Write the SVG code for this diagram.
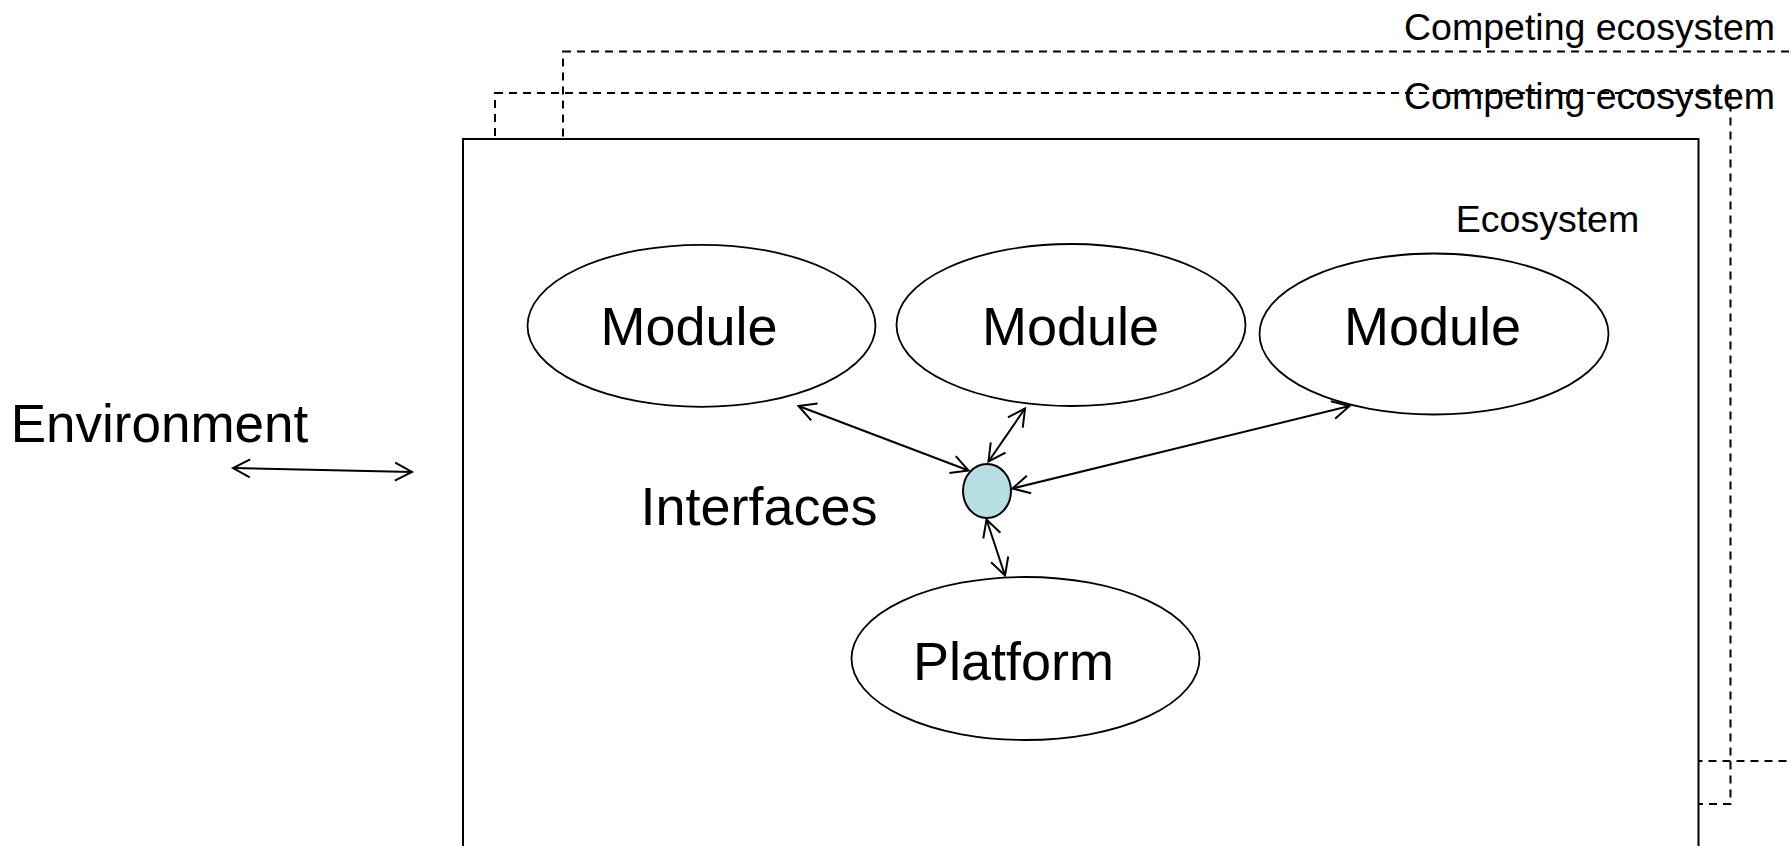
<svg xmlns="http://www.w3.org/2000/svg" width="1791" height="846" viewBox="0 0 1791 846">
  <style>
    .label { font-family: "Liberation Sans", Arial, sans-serif; fill: #000; }
    .big { font-size: 54px; }
    .small { font-size: 37.5px; }
    .frame { fill: none; stroke: #000; stroke-width: 2; stroke-dasharray: 8 6; }
    .main { fill: #fff; stroke: #000; stroke-width: 2; }
    .node { fill: #fff; stroke: #000; stroke-width: 1.8; }
    .iface { fill: #b7dee2; stroke: #000; stroke-width: 2; }
    .link { fill: none; stroke: #000; stroke-width: 2; marker-start: url(#tip); marker-end: url(#tip); }
  </style>
  <defs>
    <marker id="tip" markerUnits="userSpaceOnUse" viewBox="-20 -12 24 24" markerWidth="24" markerHeight="24" refX="0" refY="0" orient="auto-start-reverse" overflow="visible">
      <path d="M -17 -9 L 0 0 L -17 9" fill="none" stroke="#000" stroke-width="2"/>
    </marker>
  </defs>
  <rect width="1791" height="846" fill="#fff"/>

  <!-- competing ecosystems behind the main one -->
  <g id="competing-outer">
    <rect class="frame" x="563" y="51.5" width="1300" height="709.5"/>
    <text class="label small" x="1589.5" y="39.5" text-anchor="middle">Competing ecosystem</text>
  </g>
  <g id="competing-inner">
    <rect class="frame" x="495" y="93" width="1235.5" height="711"/>
    <text class="label small" x="1589.5" y="108.5" text-anchor="middle">Competing ecosystem</text>
  </g>

  <!-- main ecosystem frame -->
  <g id="ecosystem">
    <rect class="main" x="463" y="139" width="1235.5" height="760"/>
    <text class="label small" x="1547.5" y="232" text-anchor="middle">Ecosystem</text>
  </g>

  <g id="environment">
    <text class="label big" x="159.5" y="442" text-anchor="middle" style="font-size:53px">Environment</text>
  </g>

  <g id="module-1">
    <ellipse class="node" cx="701.5" cy="325.8" rx="174" ry="81"/>
    <text class="label big" x="689" y="345" text-anchor="middle">Module</text>
  </g>
  <g id="module-2">
    <ellipse class="node" cx="1071" cy="325" rx="174.5" ry="81"/>
    <text class="label big" x="1070.5" y="345" text-anchor="middle">Module</text>
  </g>
  <g id="module-3">
    <ellipse class="node" cx="1434" cy="334" rx="174.5" ry="80.5"/>
    <text class="label big" x="1432.5" y="345" text-anchor="middle">Module</text>
  </g>
  <g id="platform">
    <ellipse class="node" cx="1025.5" cy="658.5" rx="174" ry="81.5"/>
    <text class="label big" x="1013.5" y="680" text-anchor="middle">Platform</text>
  </g>
  <g id="interfaces">
    <ellipse class="iface" cx="987" cy="491" rx="24" ry="27"/>
    <text class="label big" x="759" y="525" text-anchor="middle">Interfaces</text>
  </g>

  <!-- two-way links -->
  <g id="connectors">
    <line class="link" x1="233" y1="468" x2="412" y2="472"/>
    <line class="link" x1="798.5" y1="406" x2="968.5" y2="470.5"/>
    <line class="link" x1="1025" y1="408.5" x2="988.5" y2="461.5"/>
    <line class="link" x1="1349.5" y1="406" x2="1012.5" y2="488.5"/>
    <line class="link" x1="986.5" y1="519.5" x2="1005" y2="575.5"/>
  </g>
</svg>
